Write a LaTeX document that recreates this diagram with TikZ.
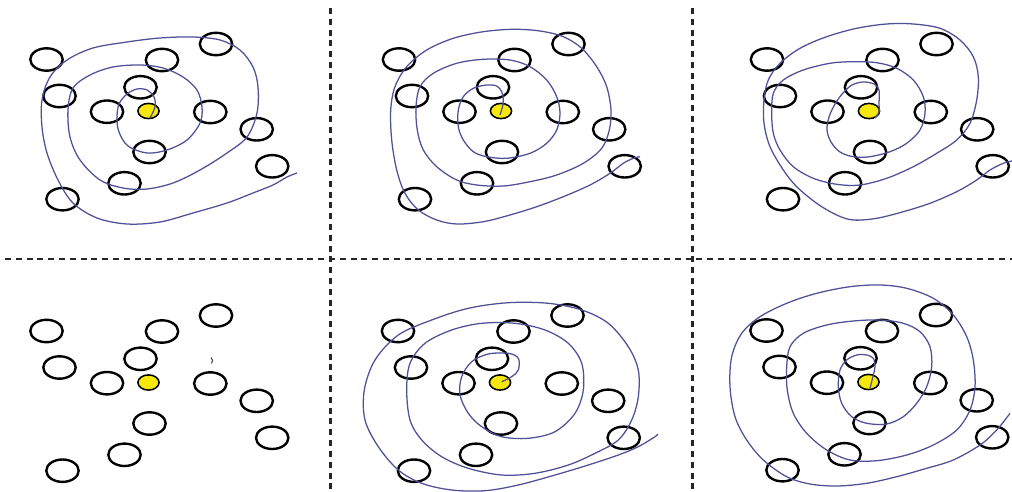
\documentclass[tikz,border=0pt]{standalone}
\usetikzlibrary{shapes.geometric}
\definecolor{spiralblue}{RGB}{80,80,150}
\definecolor{sunyellow}{RGB}{245,232,10}
\tikzset{
ring/.style={draw, ellipse, line width=1.7pt, minimum width=0.81cm, minimum height=0.56cm, inner sep=0pt},
sun/.style={draw, ellipse, fill=sunyellow, line width=1.1pt, minimum width=0.53cm, minimum height=0.38cm, inner sep=0pt},
spiral/.style={draw=spiralblue, line width=0.9pt},
divider/.style={line width=1.5pt, color=black!85, dash pattern=on 0.15cm off 0.12cm}
}
\begin{document}
\begin{tikzpicture}[x=0.025cm, y=-0.025cm]
\useasboundingbox (0,0) rectangle (1012,492);
\coordinate (L) at (5,259);
\coordinate (R) at (1012,259);
\coordinate (T1) at (330.5,8);
\coordinate (B1) at (330.5,492);
\coordinate (T2) at (692.5,8);
\coordinate (B2) at (692.5,492);
\draw [divider] (L) -- (R);
\draw [divider] (T1) -- (B1);
\draw [divider] (T2) -- (B2);
\foreach \p/\dx/\dy in {a/0/0, b/352.5/0, c/720.5/0, d/0/271.5, e/351.5/271.5, f/720/271} {
\begin{scope}[shift={(\dx,\dy)}]
\foreach \n/\x/\y in {1/46.5/59.5, 2/162/60, 3/216/44, 4/59.5/96, 5/140.5/87.3, 6/107/111.7, 7/210.3/112, 8/256.7/129.3, 9/149.5/152, 10/272.2/166.3, 11/124.5/183.3, 12/62.5/199.2}
\node [ring] (\p\n) at (\x,\y) {};
\node [sun] (\p0) at (148.5,111) {};
\end{scope}
}
\draw [spiral] plot [smooth, tension=0.55] coordinates {(150,118) (155,107) (154,97) (147,90) (137,89) (127,94) (119,104) (117,118) (119,132) (128,146) (147,153) (167,150) (187,140) (200,123) (202,107) (197,90) (183,77) (163,68) (140,65) (113,67) (90,75) (73,88) (68,110) (70,137) (80,160) (100,180) (123,188) (147,189) (173,183) (200,170) (227,153) (247,137) (257,113) (258,87) (253,67) (240,50) (220,40) (193,37) (160,38) (127,42) (93,48) (67,60) (50,77) (42,100) (42,127) (47,153) (58,180) (73,203) (97,218) (127,224) (160,222) (193,213) (227,203) (253,193) (273,185) (287,177) (297,173)};
\draw [spiral] plot [smooth, tension=0.55] coordinates {(500,115) (502.7,106) (503.3,100) (501.7,91.7) (496.7,86) (486.7,85) (473.3,88.3) (463.3,96.7) (458.3,110) (458.3,126.7) (463.3,140) (473.3,151.7) (486.7,156.7) (506.7,158.3) (530,153.3) (546.7,143.3) (556.7,130) (560,113.3) (556.7,96.7) (546.7,80) (530,66.7) (510,60) (483.3,59.3) (456.7,63.3) (433.3,73.3) (420,86.7) (416,106.7) (417.3,130) (423.3,150) (436.7,166.7) (456.7,180) (476.7,185) (503.3,186) (530,181.7) (556.7,175) (583.3,163.3) (601.7,148.3) (609.3,130) (611,110) (606.7,86.7) (596.7,66.7) (581.7,48.3) (563.3,36.7) (540,31) (513.3,29.3) (483.3,31.7) (453.3,38.3) (426.7,50) (406.7,66.7) (395,86.7) (390.7,110) (391.7,140) (396.7,170) (405,193.3) (418.3,210) (436.7,220) (456.7,224) (483.3,221.7) (510,215) (536.7,206.7) (563.3,196.7) (590,185) (610,173.3) (623.3,163.3) (633.3,158.3) (640,156.7)};
\draw [spiral] plot [smooth, tension=0.55] coordinates {(875,118) (879,112) (879,104) (879,90) (874,84) (863,82) (852,85) (843,93) (835,104) (829,117) (827,130) (831,142) (840,152) (853.3,156.7) (870,156.7) (890,151.7) (906.7,143.3) (920,130) (925,113.3) (923.3,96.7) (913.3,80) (896.7,68.3) (876.7,62.7) (853.3,61.7) (830,63.3) (803.3,70) (783.3,80) (773.3,93.3) (771.7,113.3) (773.3,133.3) (780,150) (793.3,166.7) (813.3,178.3) (836.7,184.3) (860,185) (886.7,178.3) (913.3,166.7) (936.7,153.3) (956.7,140) (970,123.3) (976.7,100) (978.3,76.7) (973.3,56.7) (960,40) (940,28.3) (913.3,24) (886.7,24) (856.7,28.3) (826.7,36.7) (800,48.3) (780,63.3) (768.3,80) (764,100) (764,123.3) (770,146.7) (783.3,170) (796.7,186.7) (816.7,203.3) (836.7,215) (853.3,220) (876.7,218.3) (903.3,211.7) (930,203.3) (956.7,191.7) (976.7,180) (990,170) (1003.3,163.3) (1012,161)};
\draw [spiral] plot [smooth, tension=0.55] coordinates {(501.7,381.7) (511.7,376.7) (518.3,370) (518.3,358.3) (508.3,353.3) (488.3,354) (471.7,361.7) (461.7,376.7) (460,395) (468.3,413.3) (481.7,426.7) (501.7,436.7) (528.3,438.3) (555,431.7) (575,413.3) (583.3,390) (581.7,363.3) (568.3,343.3) (545,330) (515,323.3) (481.7,323.3) (451.7,330) (425,343.3) (410,363.3) (406.7,390) (410,420) (421.7,440) (441.7,456.7) (468.3,468.3) (501.7,475) (535,473.3) (568.3,465) (595,453.3) (618.3,440) (631.7,420) (638.3,396.7) (638.3,370) (628.3,346.7) (608.3,323.3) (581.7,310) (548.3,303.3) (508.3,302.7) (468.3,308.3) (431.7,320) (398.3,335) (375,360) (364.3,390) (365,420) (378.3,446.7) (398.3,470) (421.7,483.3) (451.7,490) (485,490.7) (518.3,485) (555,475) (588.3,465) (618.3,455) (638.3,446.7) (655,436.7) (657.7,434)};
\draw [spiral] plot [smooth, tension=0.55] coordinates {(870,388.3) (873.3,375) (875,366.7) (873.3,358.3) (866.7,355) (856.7,355) (846.7,360) (840,370) (838.3,386.7) (841.7,403.3) (851.7,416.7) (866.7,423.3) (886.7,424) (903.3,416.7) (916.7,403.3) (926.7,386.7) (931.7,366.7) (930,346.7) (920,331.7) (903.3,323.3) (880,320) (853.3,321) (826.7,325) (803.3,333.3) (790,346.7) (786.7,366.7) (787.3,390) (793.3,413.3) (806.7,433.3) (826.7,450) (850,460) (876.7,460.7) (906.7,455) (933.3,445) (956.7,430) (970,410) (975,386.7) (973.3,360) (966.7,336.7) (953.3,315) (933.3,298.3) (906.7,288.3) (880,285) (850,286.7) (816.7,293.3) (786.7,303.3) (760,316.7) (741.7,333.3) (731.7,356.7) (730,386.7) (735,416.7) (746.7,440) (763.3,460) (786.7,476.7) (810,484) (836.7,486) (866.7,483.3) (896.7,476.7) (926.7,468.3) (953.3,460) (980,445) (996.7,430) (1010,413.3)};
\draw [black!70, line width=0.8pt] (211,357.5) to [bend left=50] (211.5,363.5);
\end{tikzpicture}
\end{document}
